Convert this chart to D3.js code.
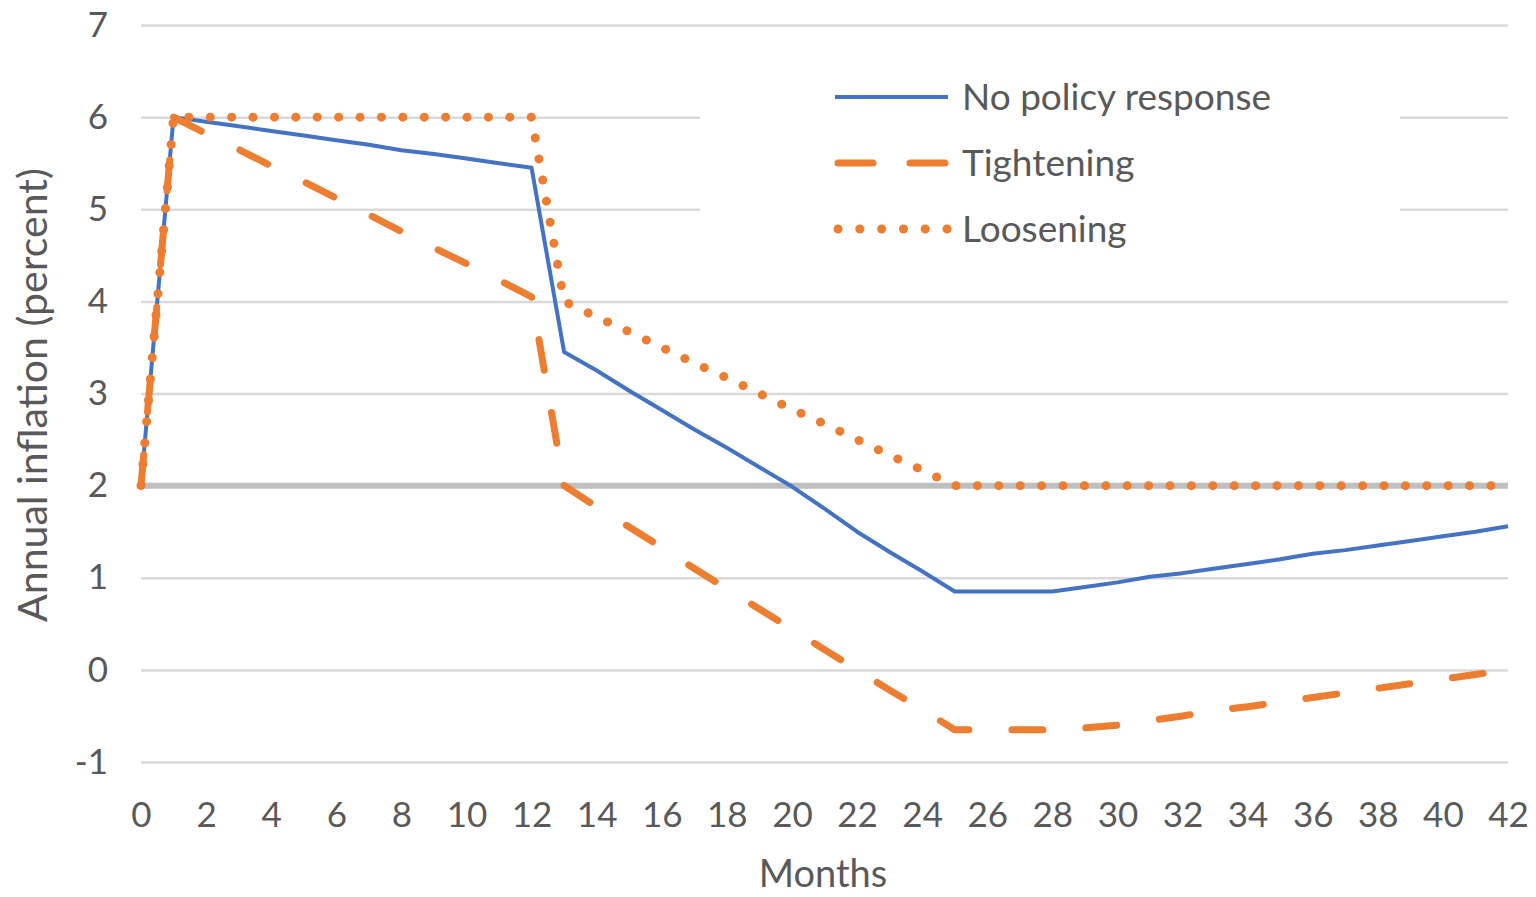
<!DOCTYPE html>
<html><head><meta charset="utf-8">
<script src="https://cdn.jsdelivr.net/npm/d3@7"></script>
<style>
body{margin:0;background:#fff}
text{font-family:Lato,"Open Sans",sans-serif;fill:#595959}
</style>
</head><body>
<svg id="c" width="1536" height="897"></svg>
<script>
// ---- data ----
const months = [0,1,2,3,4,5,6,7,8,9,10,11,12,13,14,15,16,17,18,19,20,21,22,23,24,25,26,27,28,29,30,31,32,33,34,35,36,37,38,39,40,41,42];
const noPolicy = [2,6,5.95,5.9,5.85,5.8,5.75,5.7,5.64,5.6,5.55,5.5,5.45,3.45,3.25,3.03,2.82,2.61,2.41,2.2,1.99,1.75,1.5,1.28,1.07,0.85,0.85,0.85,0.85,0.9,0.95,1.01,1.05,1.1,1.15,1.2,1.26,1.3,1.35,1.4,1.45,1.5,1.56];
const tightening = [2,6,5.82,5.65,5.47,5.3,5.12,4.94,4.76,4.58,4.41,4.23,4.05,2.0,1.77,1.55,1.33,1.1,0.88,0.66,0.44,0.22,0.0,-0.22,-0.43,-0.65,-0.65,-0.65,-0.65,-0.63,-0.6,-0.55,-0.5,-0.44,-0.4,-0.35,-0.3,-0.25,-0.2,-0.15,-0.1,-0.05,0.0];
const loosening = [2,6,6,6,6,6,6,6,6,6,6,6,6,4.0,3.83,3.67,3.5,3.33,3.17,3.0,2.83,2.67,2.5,2.33,2.17,2.0,2,2,2,2,2,2,2,2,2,2,2,2,2,2,2,2,2];
const targetValue = 2;
const yTicks = [-1,0,1,2,3,4,5,6,7];
const xTicks = [0,2,4,6,8,10,12,14,16,18,20,22,24,26,28,30,32,34,36,38,40,42];
const seriesNames = ["No policy response","Tightening","Loosening"];
const yTitle = "Annual inflation (percent)";
const xTitle = "Months";

// ---- layout ----
const svg = d3.select("#c");
const x = d3.scaleLinear().domain([0,42]).range([141,1508]);
const y = d3.scaleLinear().domain([-1,7]).range([762,25]);
const FS = 35;
const fmt = d => String(d);

// grid + y labels
const gy = svg.append("g").attr("transform","translate(141,0)")
  .call(d3.axisLeft(y).tickValues(yTicks).tickSize(-(1508-141)).tickPadding(33).tickFormat(fmt));
gy.select(".domain").remove();
gy.selectAll(".tick line").attr("stroke","#d9d9d9").attr("stroke-width",2.5);
gy.selectAll(".tick text").style("font-size",FS+"px").style("fill","#595959");

// x labels
const gx = svg.append("g").attr("transform","translate(0,762)")
  .call(d3.axisBottom(x).tickValues(xTicks).tickSize(0).tickPadding(40).tickFormat(fmt));
gx.select(".domain").remove();
gx.selectAll(".tick text").style("font-size",FS+"px").style("fill","#595959");

// target line at 2
svg.append("line").attr("x1",x(0)).attr("x2",x(42)).attr("y1",y(targetValue)).attr("y2",y(targetValue))
  .attr("stroke","#bfbfbf").attr("stroke-width",6);

// legend background
svg.append("rect").attr("x",700).attr("y",50).attr("width",700).attr("height",215).attr("fill","#fff");

const line = d3.line().x((d,i)=>x(months[i])).y(d=>y(d));
const styles = [
  {color:"#4472c4", width:4, dash:null, cap:"butt"},
  {color:"#ed7d31", width:7, dash:"31,43", cap:"round"},
  {color:"#ed7d31", width:9, dash:"0.1,21.3", cap:"round"}
];
const data = [noPolicy, tightening, loosening];
data.forEach((s,k)=>{
  const st = styles[k];
  const p = svg.append("path").datum(s).attr("d",line).attr("fill","none")
    .attr("stroke",st.color).attr("stroke-width",st.width).attr("stroke-linecap",st.cap).attr("stroke-linejoin","round");
  if(st.dash) p.attr("stroke-dasharray",st.dash);
});

// legend
const legY = [97,163,229];
const legX1 = [835,838,838];
const legX2 = [948,945,950];
const legDash = [null,"35,37","0.1,21.7"];
seriesNames.forEach((n,k)=>{
  const st = styles[k];
  const l = svg.append("line").attr("x1",legX1[k]).attr("x2",legX2[k]).attr("y1",legY[k]).attr("y2",legY[k])
    .attr("stroke",st.color).attr("stroke-width",st.width).attr("stroke-linecap",st.cap);
  if(legDash[k]) l.attr("stroke-dasharray",legDash[k]);
  svg.append("text").attr("x",962).attr("y",legY[k]).attr("dy","0.35em").style("font-size","37px").text(n);
});

// axis titles
svg.append("text").attr("transform","translate(33,395) rotate(-90)").attr("text-anchor","middle").attr("dy","0.35em")
  .style("font-size","41px").text(yTitle);
svg.append("text").attr("x",823).attr("y",874).attr("text-anchor","middle").attr("dy","0.35em")
  .style("font-size","38px").text(xTitle);
</script>
</body></html>
